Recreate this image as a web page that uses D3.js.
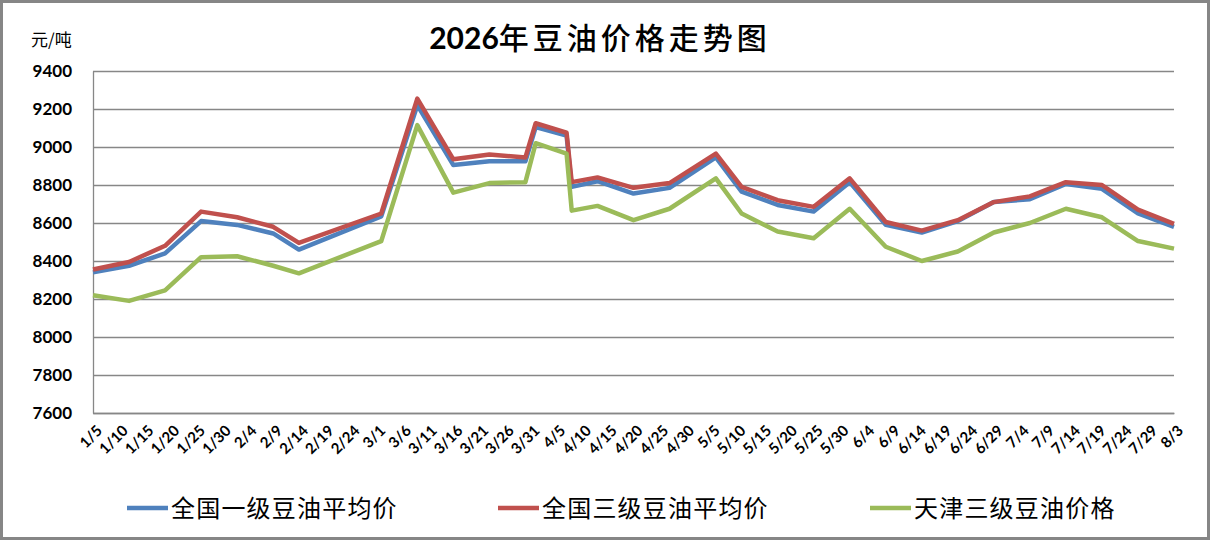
<html>
<head>
<meta charset="utf-8">
<script src="https://d3js.org/d3.v7.min.js"></script>
<style>
  body { margin: 0; background: #fff; }
</style>
</head>
<body>
<script>
    // weekly price observations (元/吨)
    var dates = ['1/5','1/12','1/19','1/26','2/2','2/9','2/14','3/2','3/9','3/16','3/23','3/30','4/1','4/7','4/8',
                 '4/13','4/20','4/27','5/6','5/11','5/18','5/25','6/1','6/8','6/15','6/22','6/29','7/6','7/13','7/20','7/27','8/3']
    var grade1Avg = [8340,8375,8440,8610,8590,8545,8460,8635,9220,8905,8925,8925,9105,9060,8790,
                     8820,8755,8785,8945,8765,8695,8660,8815,8590,8550,8610,8710,8725,8805,8780,8650,8580]
    var grade3Avg = [8355,8395,8480,8660,8630,8580,8495,8650,9255,8935,8960,8945,9125,9075,8815,
                     8840,8785,8810,8965,8790,8720,8685,8835,8605,8560,8615,8710,8740,8815,8800,8670,8595]
    var tianjin3 = [8220,8190,8245,8420,8425,8375,8335,8505,9115,8760,8810,8815,9020,8965,8665,
                    8690,8615,8675,8835,8650,8555,8520,8675,8475,8400,8450,8550,8600,8675,8630,8505,8465]
    var seriesNames = ['全国一级豆油平均价', '全国三级豆油平均价', '天津三级豆油价格']
    var seriesColors = ['#4F81BD', '#C0504D', '#9BBB59']
    var yTicks = [7600,7800,8000,8200,8400,8600,8800,9000,9200,9400]
    var firstDay = '1/5', lastDay = '8/3', tickStep = 5

    var width = 1212, height = 541
    var parse = function(s){ return d3.timeParse('%Y/%m/%d')('2026/' + s) }

    var svg = d3.select('body').append('svg').attr('width', width).attr('height', height)
        .style('font-family', 'Lato, "Noto Sans", sans-serif')

    svg.append('rect').attr('x', 1.5).attr('y', 1.5).attr('width', 1207).attr('height', 537)
        .attr('fill', 'white').attr('stroke', '#868686').attr('stroke-width', 3)

    var plot = {left: 93, right: 1174, top: 71, bottom: 413}
    var x = d3.scaleTime().domain([parse(firstDay), parse(lastDay)]).range([plot.left, plot.right])
    var y = d3.scaleLinear().domain([7600, 9400]).range([plot.bottom, plot.top])

    // gridlines
    svg.append('g').attr('transform', `translate(${plot.left},0)`)
        .call(d3.axisLeft(y).tickValues(yTicks).tickSize(-(plot.right - plot.left)).tickFormat(''))
        .call(g => g.select('.domain').remove())
        .call(g => g.selectAll('line').attr('stroke', '#878787').attr('stroke-width', 1.3))

    // y axis
    var yAxis = svg.append('g').attr('transform', `translate(${plot.left},0)`)
        .call(d3.axisLeft(y).tickValues(yTicks).tickSize(0).tickPadding(21).tickFormat(d3.format('d')))
    yAxis.select('.domain').attr('stroke', '#878787').attr('stroke-width', 1.3)
    yAxis.selectAll('text').style('font-size', '17px').style('font-weight', 'bold')
        .style('font-family', 'Lato, sans-serif').attr('fill', '#000')

    // x axis
    var tickDates = d3.range(0, d3.timeDay.count(parse(firstDay), parse(lastDay)) + 1, tickStep)
        .map(function(d){ return d3.timeDay.offset(parse(firstDay), d) })
    var xAxis = svg.append('g').attr('transform', `translate(0,${plot.bottom})`)
        .call(d3.axisBottom(x).tickValues(tickDates).tickSize(0).tickFormat(d3.timeFormat('%-m/%-d')))
    xAxis.select('.domain').attr('stroke', '#878787').attr('stroke-width', 1.3)
    xAxis.selectAll('text').style('font-size', '15px').style('font-weight', 'bold')
        .style('font-family', 'Lato, sans-serif').attr('fill', '#000')
        .attr('text-anchor', 'end').attr('dy', '0.35em')
        .attr('transform', 'translate(6,15) rotate(-45)').attr('y', 0).attr('x', 0)

    // lines
    var allSeries = [grade1Avg, grade3Avg, tianjin3]
    var line = d3.line().x(function(d, i){ return x(parse(dates[i])) }).y(function(d){ return y(d) })
    svg.selectAll('.series').data(allSeries).enter().append('path')
        .attr('class', 'series')
        .attr('d', line)
        .attr('fill', 'none')
        .attr('stroke', function(d, i){ return seriesColors[i] })
        .attr('stroke-width', 4.5)
        .attr('stroke-linejoin', 'round')

    // title
    var title = svg.append('text').attr('x', 600).attr('y', 49).attr('text-anchor', 'middle')
        .style('font-size', '30px').attr('fill', '#000')
    title.append('tspan').text('2026').style('font-weight', 'bold').style('font-family', 'Lato, sans-serif')
    title.append('tspan').text('年豆油价格走势图').style('font-family', '"Noto Sans CJK SC", sans-serif')
        .style('letter-spacing', '4px').style('font-weight', 500)

    svg.append('text').attr('x', 31).attr('y', 46).text('元/吨')
        .style('font-family', '"Noto Sans CJK SC", sans-serif').style('font-size', '17px')

    // legend
    var legendX = [127, 498, 870]
    var legend = svg.selectAll('.legend').data(seriesNames).enter().append('g')
        .attr('class', 'legend')
        .attr('transform', function(d, i){ return `translate(${legendX[i]},508)` })
    legend.append('line').attr('x1', 0).attr('x2', 41).attr('y1', 0).attr('y2', 0)
        .attr('stroke', function(d, i){ return seriesColors[i] }).attr('stroke-width', 4.5)
    legend.append('text').attr('x', 44).attr('y', 9).text(function(d){ return d })
        .style('font-family', '"Noto Sans CJK SC", sans-serif').style('font-size', '24px')
        .style('letter-spacing', '1.2px')
</script>
</body>
</html>
